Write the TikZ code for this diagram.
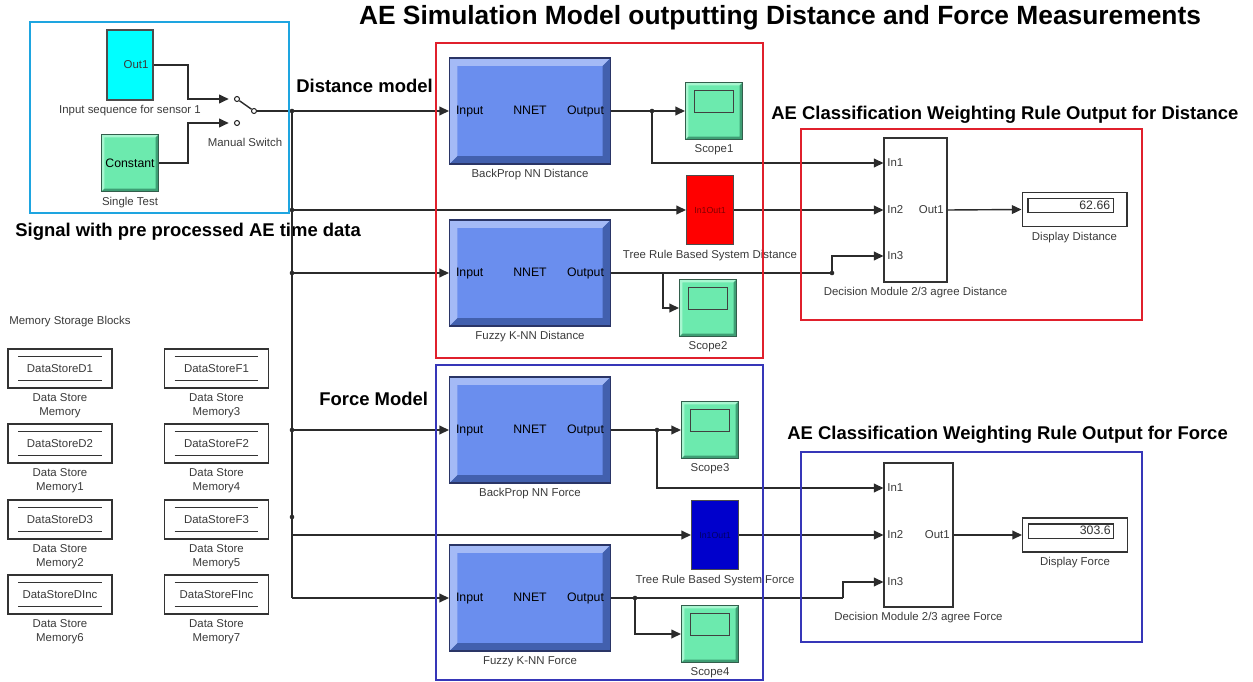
\documentclass[tikz,border=0pt]{standalone}
\usepackage{fontspec}
\setmainfont{Liberation Sans}
\usetikzlibrary{arrows.meta,positioning,calc}

\definecolor{inputframe}{HTML}{1EA5E0}
\definecolor{distred}{HTML}{E0202C}
\definecolor{forceblue}{HTML}{3636B8}
\definecolor{nnfill}{HTML}{6A8EEE}
\definecolor{nnlight}{HTML}{A4BAF6}
\definecolor{nndark}{HTML}{4260AE}
\definecolor{nnedge}{HTML}{2A3566}
\definecolor{scopefill}{HTML}{6CEAAE}
\definecolor{scopelight}{HTML}{A8F6D0}
\definecolor{scopedark}{HTML}{3E9E74}
\definecolor{scopeedge}{HTML}{335E4C}
\definecolor{seqcyan}{HTML}{00FFFF}
\definecolor{treered}{HTML}{FF0000}
\definecolor{treeblue}{HTML}{0000CC}
\definecolor{wire}{HTML}{2B2B2B}
\definecolor{captext}{HTML}{3A3A3A}

\newcommand{\capfont}{\fontsize{6.5}{8}\selectfont}
\newcommand{\nnlabels}{\makebox[2.96cm]{\rlap{Input}\hfill NNET\hfill\llap{Output}}}
\newcommand{\bevelfill}[3]{%
  \fill[#1] (path picture bounding box.south west) -- (path picture bounding box.north west)
    -- (path picture bounding box.north east) -- ++(-#3,-#3)
    -| ([shift={(#3,#3)}]path picture bounding box.south west) -- cycle;
  \fill[#2] (path picture bounding box.south west) -- (path picture bounding box.south east)
    -- (path picture bounding box.north east) -- ++(-#3,-#3)
    |- ([shift={(#3,#3)}]path picture bounding box.south west) -- cycle;}

\tikzset{
    % Frames round the model parts
    container/.style={
        rectangle,
        draw=#1,
        line width=1.6pt,
        inner sep=0pt
    },
    % Neural network block
    nnet/.style={
        rectangle,
        draw=nnedge,
        fill=nnfill,
        line width=0.6pt,
        minimum width=3.22cm,
        minimum height=2.12cm,
        inner sep=0pt,
        font=\fontsize{7}{8}\selectfont,
        path picture={\bevelfill{nnlight}{nndark}{4.5pt}}
    },
    % Scope block
    scopebox/.style={
        rectangle,
        draw=scopeedge,
        fill=scopefill,
        line width=0.6pt,
        minimum size=1.14cm,
        inner sep=0pt,
        path picture={\bevelfill{scopelight}{scopedark}{1.6pt}
            \draw[line width=0.7pt, draw=black!75]
                ([shift={(5pt,-4.5pt)}]path picture bounding box.north west) rectangle
                ([shift={(-5pt,-17pt)}]path picture bounding box.north east);}
    },
    % Constant block
    constbox/.style={
        rectangle,
        draw=scopeedge,
        fill=scopefill,
        line width=0.6pt,
        minimum size=1.14cm,
        inner sep=0pt,
        font=\fontsize{7}{8}\selectfont,
        path picture={\bevelfill{scopelight}{scopedark}{1.6pt}}
    },
    % Tree rule block
    treebox/.style={
        rectangle,
        draw=black!70,
        fill=#1,
        line width=0.6pt,
        minimum width=0.94cm,
        minimum height=1.38cm,
        inner sep=0pt,
        font=\fontsize{5}{6}\selectfont,
        text=#1!50!black
    },
    % Decision module
    decisionbox/.style={
        rectangle,
        draw=black!80,
        fill=white,
        line width=0.6pt,
        minimum height=2.88cm,
        inner sep=0pt
    },
    % Display block
    displaybox/.style={
        rectangle,
        draw=black!80,
        fill=white,
        line width=0.6pt,
        minimum width=2.1cm,
        minimum height=0.68cm,
        inner sep=0pt,
        path picture={\draw[line width=0.6pt]
            ([shift={(3.4pt,-3.4pt)}]path picture bounding box.north west) rectangle
            ([shift={(-7.9pt,7.9pt)}]path picture bounding box.south east);}
    },
    % Data store block
    storebox/.style={
        rectangle,
        draw=black!80,
        line width=0.6pt,
        minimum width=2.08cm,
        minimum height=0.78cm,
        inner sep=0pt,
        font=\capfont,
        text=captext,
        path picture={
            \draw[line width=0.5pt] ([shift={(5.7pt,-4.5pt)}]path picture bounding box.north west)
                -- ([shift={(-5.7pt,-4.5pt)}]path picture bounding box.north east);
            \draw[line width=0.5pt] ([shift={(5.7pt,4.5pt)}]path picture bounding box.south west)
                -- ([shift={(-5.7pt,4.5pt)}]path picture bounding box.south east);}
    },
    % Switch contact
    contact/.style={
        circle,
        draw=wire,
        fill=white,
        line width=0.6pt,
        minimum size=0.1cm,
        inner sep=0pt
    },
    % Wire styles
    sig/.style={
        draw=wire,
        line width=0.8pt
    },
    flow/.style={
        sig,
        -{Triangle[length=5.5pt, width=5pt]}
    },
    % Label styles
    caplabel/.style={
        font=\capfont,
        text=captext,
        inner sep=1.5pt,
        align=center
    },
    port text/.style={
        font=\capfont,
        text=captext,
        inner sep=1pt
    },
    value text/.style={
        font=\fontsize{7}{8}\selectfont,
        text=black!80,
        inner sep=0pt
    },
    model title/.style={
        font=\fontsize{10.5}{12}\selectfont\bfseries,
        inner sep=0pt
    },
    section title/.style={
        font=\fontsize{15}{17}\selectfont\bfseries,
        inner sep=0pt
    }
}

\begin{document}
\begin{tikzpicture}[x=0.02cm, y=-0.02cm]
        \useasboundingbox (0,0) rectangle (1253,682);

        % Titles
        \node[section title] (maintitle) at (780,18) {AE Simulation Model outputting Distance and Force Measurements};
        \node[model title, anchor=west] (distlabel) at (296,86) {Distance model};
        \node[model title, anchor=west] (signallabel) at (15,232) {Signal with pre processed AE time data};
        \node[model title, anchor=west] (forcelabel) at (319,399) {Force Model};
        \node[model title, anchor=west] (distouttitle) at (771,115) {AE Classification Weighting Rule Output for Distance};
        \node[model title, anchor=west] (forceouttitle) at (787,435) {AE Classification Weighting Rule Output for Force};

        % Input signal
        \node[rectangle, draw=black!70, line width=0.6pt, fill=seqcyan, minimum width=0.92cm, minimum height=1.4cm] (seq) at (130,65) {};
        \node[port text, anchor=east] (seqout) at ($(seq.east)+(-3,0)$) {Out1};
        \node[caplabel, below=1pt of seq] (seqcap) {Input sequence for sensor 1};
        \node[constbox] (const) at (130,163) {Constant};
        \node[caplabel, below=1pt of const] (constcap) {Single Test};

        % Manual switch
        \node[contact] (swa) at (237,99) {};
        \node[contact] (swb) at (237,123) {};
        \node[contact] (swo) at (254,111) {};
        \node[caplabel] (swcap) at (245,142) {Manual Switch};
        \coordinate (swk1) at (188,99);
        \coordinate (swk2) at (188,123);
        \draw[flow, shorten >=3pt] (seq.east) -| (swk1) -- (swa);
        \draw[flow, shorten >=3pt] (const.east) -| (swk2) -- (swb);
        \draw[sig] (swa) -- (swo);

        % Signal bus
        \coordinate (bus1) at (292,111);
        \coordinate (bus2) at (292,210);
        \coordinate (bus3) at (292,273);
        \coordinate (bus4) at (292,430);
        \coordinate (bus5) at (292,517);
        \coordinate (bus6) at (292,535);
        \coordinate (bus7) at (292,598);
        \draw[sig] (swo) -- (bus1);
        \draw[sig] (bus1) -- (bus7);

        % Distance model
        \node[nnet] (bpd) at (530,111) {\nnlabels};
        \node[caplabel, below=1pt of bpd] (bpdcap) {BackProp NN Distance};
        \node[scopebox] (sc1) at (714,111) {};
        \node[caplabel, below=1pt of sc1] (sc1cap) {Scope1};
        \node[treebox=treered] (trd) at (710,210) {In1Out1};
        \node[caplabel, below=1pt of trd] (trdcap) {Tree Rule Based System Distance};
        \node[nnet] (fkd) at (530,273) {\nnlabels};
        \node[caplabel, below=1pt of fkd] (fkdcap) {Fuzzy K-NN Distance};
        \node[scopebox] (sc2) at (708,308) {};
        \node[caplabel, below=1pt of sc2] (sc2cap) {Scope2};
        \coordinate (bpdj) at (652,111);
        \coordinate (fkdj1) at (663,273);
        \coordinate (fkdj2) at (832,273);

        % Distance output
        \node[decisionbox, minimum width=1.26cm] (dcd) at (915.5,210) {};
        \node[caplabel, below=1pt of dcd] (dcdcap) {Decision Module 2/3 agree Distance};
        \coordinate (dcdin1) at ($(dcd.west)+(0,-47)$);
        \coordinate (dcdin2) at (dcd.west);
        \coordinate (dcdin3) at ($(dcd.west)+(0,46)$);
        \node[port text, right=1pt of dcdin1] (dcdl1) {In1};
        \node[port text, right=1pt of dcdin2] (dcdl2) {In2};
        \node[port text, right=1pt of dcdin3] (dcdl3) {In3};
        \node[port text, left=1pt of dcd.east] (dcdl4) {Out1};
        \node[displaybox] (dpd) at (1074.5,209.5) {};
        \node[value text, anchor=east] (dpdval) at ($(dpd.north east)+(-17,13)$) {62.66};
        \node[caplabel, below=1pt of dpd] (dpdcap) {Display Distance};

        % Distance flow
        \draw[flow] (bus1) -- (bpd.west);
        \draw[sig] (bpd.east) -- (bpdj);
        \draw[flow] (bpdj) -- (sc1.west);
        \draw[flow] (bpdj) |- (dcdin1);
        \draw[flow] (bus2) -- (trd.west);
        \draw[flow] (trd.east) -- (dcdin2);
        \draw[flow] (bus3) -- (fkd.west);
        \draw[sig] (fkd.east) -- (fkdj2);
        \draw[flow] (fkdj1) |- (sc2.west);
        \draw[flow] (fkdj2) |- (dcdin3);
        \draw[flow] (dcd.east) -- (dpd.west);

        % Force model
        \node[nnet] (bpf) at (530,430) {\nnlabels};
        \node[caplabel, below=1pt of bpf] (bpfcap) {BackProp NN Force};
        \node[scopebox] (sc3) at (710,430) {};
        \node[caplabel, below=1pt of sc3] (sc3cap) {Scope3};
        \node[treebox=treeblue] (trf) at (715,535) {In1Out1};
        \node[caplabel, below=1pt of trf] (trfcap) {Tree Rule Based System Force};
        \node[nnet] (fkf) at (530,598) {\nnlabels};
        \node[caplabel, below=1pt of fkf] (fkfcap) {Fuzzy K-NN Force};
        \node[scopebox] (sc4) at (710,634) {};
        \node[caplabel, below=1pt of sc4] (sc4cap) {Scope4};
        \coordinate (bpfj) at (657,430);
        \coordinate (fkfj1) at (635,598);
        \coordinate (fkfj2) at (843,598);

        % Force output
        \node[decisionbox, minimum width=1.38cm] (dcf) at (918.5,535) {};
        \node[caplabel, below=1pt of dcf] (dcfcap) {Decision Module 2/3 agree Force};
        \coordinate (dcfin1) at ($(dcf.west)+(0,-47)$);
        \coordinate (dcfin2) at (dcf.west);
        \coordinate (dcfin3) at ($(dcf.west)+(0,47)$);
        \node[port text, right=1pt of dcfin1] (dcfl1) {In1};
        \node[port text, right=1pt of dcfin2] (dcfl2) {In2};
        \node[port text, right=1pt of dcfin3] (dcfl3) {In3};
        \node[port text, left=1pt of dcf.east] (dcfl4) {Out1};
        \node[displaybox] (dpf) at (1075,535) {};
        \node[value text, anchor=east] (dpfval) at ($(dpf.north east)+(-17,13)$) {303.6};
        \node[caplabel, below=1pt of dpf] (dpfcap) {Display Force};

        % Force flow
        \draw[flow] (bus4) -- (bpf.west);
        \draw[sig] (bpf.east) -- (bpfj);
        \draw[flow] (bpfj) -- (sc3.west);
        \draw[flow] (bpfj) |- (dcfin1);
        \draw[flow] (bus6) -- (trf.west);
        \draw[flow] (trf.east) -- (dcfin2);
        \draw[flow] (bus7) -- (fkf.west);
        \draw[sig] (fkf.east) -- (fkfj2);
        \draw[flow] (fkfj1) |- (sc4.west);
        \draw[flow] (fkfj2) |- (dcfin3);
        \draw[flow] (dcf.east) -- (dpf.west);

        % Junction dots
        \fill[wire] (bus1) circle[radius=1.3pt];
        \fill[wire] (bus2) circle[radius=1.3pt];
        \fill[wire] (bus3) circle[radius=1.3pt];
        \fill[wire] (bus4) circle[radius=1.3pt];
        \fill[wire] (bus5) circle[radius=1.3pt];
        \fill[wire] (bpdj) circle[radius=1.3pt];
        \fill[wire] (fkdj2) circle[radius=1.3pt];
        \fill[wire] (bpfj) circle[radius=1.3pt];
        \fill[wire] (fkfj1) circle[radius=1.3pt];

        % Memory storage blocks
        \node[caplabel, anchor=west, inner sep=0pt] (memtitle) at (9,322) {Memory Storage Blocks};
        \node[storebox] (dsd1) at (60,368.5) {DataStoreD1};
        \node[caplabel, below=1pt of dsd1] (dsd1cap) {Data Store\\Memory};
        \node[storebox] (dsd2) at (60,443.5) {DataStoreD2};
        \node[caplabel, below=1pt of dsd2] (dsd2cap) {Data Store\\Memory1};
        \node[storebox] (dsd3) at (60,519.5) {DataStoreD3};
        \node[caplabel, below=1pt of dsd3] (dsd3cap) {Data Store\\Memory2};
        \node[storebox] (dsdinc) at (60,594.5) {DataStoreDInc};
        \node[caplabel, below=1pt of dsdinc] (dsdinccap) {Data Store\\Memory6};
        \node[storebox] (dsf1) at (216.5,368.5) {DataStoreF1};
        \node[caplabel, below=1pt of dsf1] (dsf1cap) {Data Store\\Memory3};
        \node[storebox] (dsf2) at (216.5,443.5) {DataStoreF2};
        \node[caplabel, below=1pt of dsf2] (dsf2cap) {Data Store\\Memory4};
        \node[storebox] (dsf3) at (216.5,519.5) {DataStoreF3};
        \node[caplabel, below=1pt of dsf3] (dsf3cap) {Data Store\\Memory5};
        \node[storebox] (dsfinc) at (216.5,594.5) {DataStoreFInc};
        \node[caplabel, below=1pt of dsfinc] (dsfinccap) {Data Store\\Memory7};

        % Frames
        \node[container=inputframe, minimum width=5.18cm, minimum height=3.82cm] (inframe) at (159.5,117.5) {};
        \node[container=distred, minimum width=6.54cm, minimum height=6.3cm] (distframe) at (599.5,200.5) {};
        \node[container=forceblue, minimum width=6.54cm, minimum height=6.3cm] (forceframe) at (599.5,522.5) {};
        \node[container=distred, minimum width=6.82cm, minimum height=3.82cm] (distoutframe) at (971.5,224.5) {};
        \node[container=forceblue, minimum width=6.82cm, minimum height=3.8cm] (forceoutframe) at (971.5,547) {};

    \end{tikzpicture}
\end{document}
